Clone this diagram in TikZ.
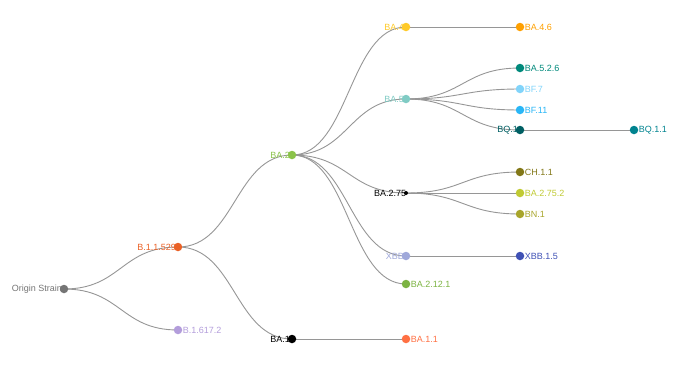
\documentclass[tikz,border=0pt]{standalone}
\usepackage{fontspec}
\setmainfont{Liberation Sans}
\usetikzlibrary{calc,backgrounds}
\definecolor{linkgray}{HTML}{969696}
\definecolor{cOrigin}{HTML}{757575}
\definecolor{cOmicron}{HTML}{EA6126}
\definecolor{cDelta}{HTML}{B39DDB}
\definecolor{cBAtwo}{HTML}{8BC34A}
\definecolor{cBAfour}{HTML}{FFCA28}
\definecolor{cBAfive}{HTML}{80CBC4}
\definecolor{cXBB}{HTML}{9FA8DA}
\definecolor{cBAtwelve}{HTML}{7CB342}
\definecolor{cBAoneone}{HTML}{FF7043}
\definecolor{cBAfoursix}{HTML}{FFA000}
\definecolor{cBAfivetwo}{HTML}{00897B}
\definecolor{cBFseven}{HTML}{81D4FA}
\definecolor{cBFeleven}{HTML}{29B6F6}
\definecolor{cBQone}{HTML}{005F63}
\definecolor{cBQoneone}{HTML}{00838F}
\definecolor{cCH}{HTML}{827717}
\definecolor{cBAsevenfive}{HTML}{C0CA33}
\definecolor{cBN}{HTML}{A8A52B}
\definecolor{cXBBone}{HTML}{3F51B5}
\begin{document}
\begin{tikzpicture}[x=1pt,y=-1pt,font=\fontsize{9}{11}\selectfont]
    \tikzset{strain/.style 2 args = {shape=circle,fill=#1,inner sep=0pt,minimum size=8.5pt,
        label={[text=#1,inner sep=0pt,label distance=-2.5pt]left:#2}}}
    \tikzset{leaf/.style 2 args = {shape=circle,fill=#1,inner sep=0pt,minimum size=8.5pt,
        label={[text=#1,inner sep=0.3pt]right:#2}}}
    \tikzset{branch/.style = {draw=linkgray,line width=0.9pt,
        to path={let \p1=(\tikztostart), \p2=(\tikztotarget) in
        .. controls ({(\x1+\x2)/2},\y1) and ({(\x1+\x2)/2},\y2) .. (\tikztotarget)}}}
    \useasboundingbox (0,0) rectangle (693,365);
    \node[strain={cOrigin}{Origin Strain}] (origin) at (64,289) {};
    \node[strain={cOmicron}{B.1.1.529}] (omicron) at (178,247) {};
    \node[leaf={cDelta}{B.1.617.2}] (delta) at (178,330) {};
    \node[strain={cBAtwo}{BA.2}] (ba2) at (292,155) {};
    \node[strain={black}{BA.1}] (ba1) at (292,339) {};
    \node[strain={cBAfour}{BA.4}] (ba4) at (406,27) {};
    \node[strain={cBAfive}{BA.5}] (ba5) at (406,99) {};
    \node[strain={black}{BA.2.75},minimum size=4pt] (ba275) at (406,193) {};
    \node[strain={cXBB}{XBB}] (xbb) at (406,256) {};
    \node[leaf={cBAtwelve}{BA.2.12.1}] (ba2121) at (406,284) {};
    \node[leaf={cBAoneone}{BA.1.1}] (ba11) at (406,339) {};
    \node[leaf={cBAfoursix}{BA.4.6}] (ba46) at (520,27) {};
    \node[leaf={cBAfivetwo}{BA.5.2.6}] (ba526) at (520,68) {};
    \node[leaf={cBFseven}{BF.7}] (bf7) at (520,89) {};
    \node[leaf={cBFeleven}{BF.11}] (bf11) at (520,110) {};
    \node[strain={cBQone}{BQ.1}] (bq1) at (520,130) {};
    \node[leaf={cCH}{CH.1.1}] (ch11) at (520,172) {};
    \node[leaf={cBAsevenfive}{BA.2.75.2}] (ba2752) at (520,193) {};
    \node[leaf={cBN}{BN.1}] (bn1) at (520,214) {};
    \node[leaf={cXBBone}{XBB.1.5}] (xbb15) at (520,256) {};
    \node[leaf={cBQoneone}{BQ.1.1}] (bq11) at (634,130) {};
    \begin{scope}[on background layer]
    \draw[branch] (origin.center) to (omicron.center);
    \draw[branch] (origin.center) to (delta.center);
    \draw[branch] (omicron.center) to (ba2.center);
    \draw[branch] (omicron.center) to (ba1.center);
    \draw[branch] (ba2.center) to (ba4.center);
    \draw[branch] (ba2.center) to (ba5.center);
    \draw[branch] (ba2.center) to (ba275.center);
    \draw[branch] (ba2.center) to (xbb.center);
    \draw[branch] (ba2.center) to (ba2121.center);
    \draw[branch] (ba1.center) to (ba11.center);
    \draw[branch] (ba4.center) to (ba46.center);
    \draw[branch] (ba5.center) to (ba526.center);
    \draw[branch] (ba5.center) to (bf7.center);
    \draw[branch] (ba5.center) to (bf11.center);
    \draw[branch] (ba5.center) to (bq1.center);
    \draw[branch] (bq1.center) to (bq11.center);
    \draw[branch] (ba275.center) to (ch11.center);
    \draw[branch] (ba275.center) to (ba2752.center);
    \draw[branch] (ba275.center) to (bn1.center);
    \draw[branch] (xbb.center) to (xbb15.center);
    \end{scope}
\end{tikzpicture}
\end{document}
